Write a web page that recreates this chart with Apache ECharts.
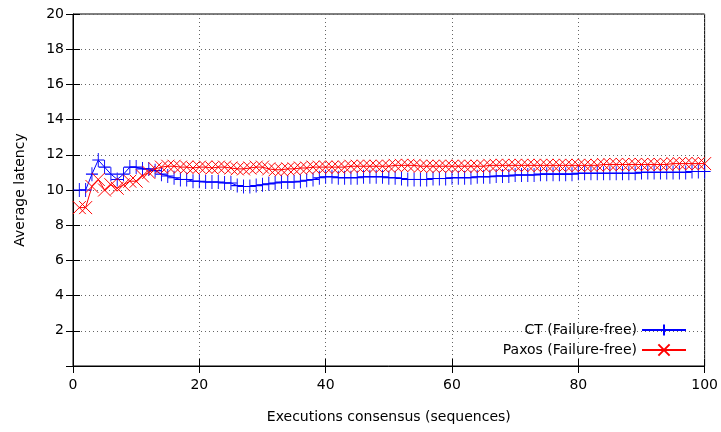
<!DOCTYPE html>
<html>
<head>
<meta charset="utf-8">
<script src="https://cdn.jsdelivr.net/npm/echarts@6/dist/echarts.min.js"></script>
<style>
  html, body { margin: 0; padding: 0; background: #fff; }
  #chart { width: 721px; height: 432px; }
</style>
</head>
<body>
<div id="chart"></div>
<script>
// average latency per execution (1..100)
const ctLatency = [
  10.0, 10.0, 10.9, 11.7, 11.3, 10.9, 10.6, 10.9, 11.3, 11.3,
  11.2, 11.2, 11.1, 10.9, 10.8, 10.7, 10.6, 10.6, 10.5, 10.5,
  10.45, 10.45, 10.45, 10.4, 10.4, 10.25, 10.2, 10.2, 10.25, 10.3,
  10.35, 10.4, 10.45, 10.45, 10.45, 10.5, 10.55, 10.6, 10.7, 10.75,
  10.75, 10.7, 10.7, 10.7, 10.7, 10.75, 10.75, 10.75, 10.75, 10.7,
  10.7, 10.65, 10.6, 10.6, 10.6, 10.6, 10.65, 10.65, 10.65, 10.7,
  10.7, 10.7, 10.7, 10.75, 10.75, 10.75, 10.8, 10.8, 10.8, 10.85,
  10.85, 10.85, 10.85, 10.9, 10.9, 10.9, 10.9, 10.9, 10.9, 10.95,
  10.95, 10.95, 10.95, 10.95, 10.95, 10.95, 10.95, 10.95, 10.95, 11.0,
  11.0, 11.0, 11.0, 11.0, 11.0, 11.0, 11.0, 11.05, 11.05, 11.05
]
const paxosLatency = [
  9.0, 9.0, 10.2, 10.6, 10.0, 10.3, 10.1, 10.3, 10.5, 10.5,
  10.8, 11.0, 11.2, 11.3, 11.35, 11.35, 11.3, 11.3, 11.25, 11.3,
  11.3, 11.25, 11.3, 11.3, 11.25, 11.2, 11.2, 11.25, 11.3, 11.3,
  11.2, 11.15, 11.15, 11.2, 11.2, 11.25, 11.25, 11.3, 11.3, 11.3,
  11.3, 11.3, 11.3, 11.35, 11.35, 11.35, 11.35, 11.35, 11.35, 11.35,
  11.4, 11.4, 11.4, 11.4, 11.35, 11.35, 11.35, 11.35, 11.35, 11.35,
  11.35, 11.35, 11.35, 11.35, 11.35, 11.4, 11.4, 11.4, 11.4, 11.4,
  11.4, 11.4, 11.4, 11.4, 11.4, 11.4, 11.4, 11.4, 11.4, 11.4,
  11.4, 11.4, 11.4, 11.45, 11.45, 11.45, 11.45, 11.45, 11.45, 11.45,
  11.45, 11.45, 11.45, 11.45, 11.5, 11.5, 11.5, 11.5, 11.5, 11.5
]
const seriesNames = ['CT (Failure-free)', 'Paxos (Failure-free)']
const xTicks = [0, 20, 40, 60, 80, 100]
const yTicks = [0, 2, 4, 6, 8, 10, 12, 14, 16, 18, 20]

const font = 'DejaVu Sans'
const plusPath = 'path://M0,5L10,5M5,0L5,10'
const crossPath = 'path://M0,0L10,10M10,0L0,10'

// x = execution number, starting at 1
function toPoints(values) {
  return values.map((v, i) => [i + 1, v])
}

const chart = echarts.init(document.getElementById('chart'))

const gridLine = { show: true, lineStyle: { color: '#666', type: [1, 3], width: 1 } }
const tick = { show: true, inside: true, length: 7, lineStyle: { color: '#000' } }
const legendText = { fontFamily: font, fontSize: 14, color: '#000' }

const option = {
  animation: false,
  textStyle: { fontFamily: font },
  grid: { left: 73, right: 16, top: 14, bottom: 66, show: true, borderColor: '#000', borderWidth: 1 },
  legend: [
    {
      data: [seriesNames[0]], right: 34, top: 323, align: 'right', orient: 'vertical',
      padding: 0, itemWidth: 44, itemHeight: 14, itemGap: 0, textStyle: legendText
    },
    {
      data: [seriesNames[1]], right: 34, top: 343, align: 'right', orient: 'vertical',
      padding: 0, itemWidth: 44, itemHeight: 14, itemGap: 0, textStyle: legendText
    }
  ],
  xAxis: [
    {
      type: 'value', min: xTicks[0], max: xTicks[xTicks.length - 1], interval: 20,
      name: 'Executions consensus (sequences)', nameLocation: 'middle', nameGap: 44,
      nameTextStyle: { fontFamily: font, fontSize: 14, color: '#000' },
      axisLine: { show: true, lineStyle: { color: '#000' } },
      axisTick: tick,
      axisLabel: { fontFamily: font, fontSize: 14, color: '#000', margin: 12 },
      splitLine: gridLine
    },
    {
      type: 'value', position: 'top', min: 0, max: 100, interval: 20,
      axisLine: { show: false }, axisTick: tick, axisLabel: { show: false }, splitLine: { show: false }
    }
  ],
  yAxis: [
    {
      type: 'value', min: yTicks[0], max: yTicks[yTicks.length - 1], interval: 2,
      name: 'Average latency', nameLocation: 'middle', nameGap: 46, nameRotate: 90,
      nameTextStyle: { fontFamily: font, fontSize: 14, color: '#000' },
      axisLine: { show: true, lineStyle: { color: '#000' } },
      axisTick: tick,
      axisLabel: {
        fontFamily: font, fontSize: 14, color: '#000', margin: 9,
        formatter: v => (v === 0 ? '' : String(v))
      },
      splitLine: gridLine
    },
    {
      type: 'value', position: 'right', min: 0, max: 20, interval: 2,
      axisLine: { show: false }, axisTick: tick, axisLabel: { show: false }, splitLine: { show: false }
    }
  ],
  series: [
    {
      name: seriesNames[0], type: 'line', data: toPoints(ctLatency),
      symbol: plusPath, symbolSize: [12, 14], showAllSymbol: true,
      lineStyle: { color: '#0000ff', width: 1 },
      itemStyle: { color: 'rgba(0,0,0,0)', borderColor: '#0000ff', borderWidth: 1 }
    },
    {
      name: seriesNames[1], type: 'line', data: toPoints(paxosLatency),
      symbol: crossPath, symbolSize: 13, showAllSymbol: true,
      lineStyle: { color: '#ff0000', width: 1 },
      itemStyle: { color: 'rgba(0,0,0,0)', borderColor: '#ff0000', borderWidth: 1 }
    }
  ]
}

chart.setOption(option)
</script>
</body>
</html>
